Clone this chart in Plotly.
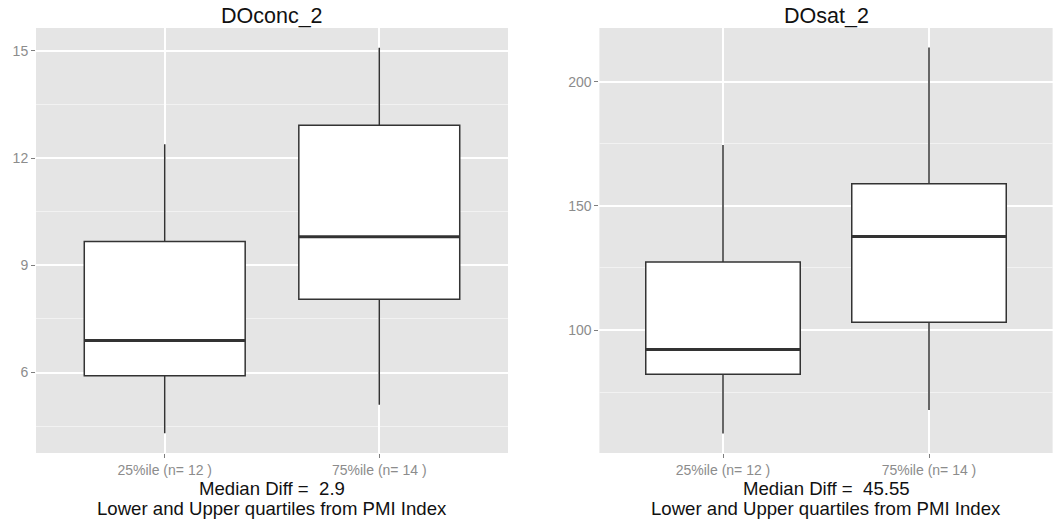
import plotly.graph_objects as go

# ---- data ----
groups = ["25%ile", "75%ile"]
counts = [12, 14]

conc_lower = [4.30, 5.10]
conc_q1 = [5.91, 8.05]
conc_median = [6.90, 9.80]
conc_q3 = [9.67, 12.92]
conc_upper = [12.39, 15.09]
conc_median_diff = "2.9"

sat_lower = [58.4, 67.8]
sat_q1 = [82.2, 103.1]
sat_median = [92.15, 137.7]
sat_q3 = [127.4, 158.9]
sat_upper = [174.5, 213.7]
sat_median_diff = "45.55"

conc_ticks = [6, 9, 12, 15]
conc_minor = [4.5, 7.5, 10.5, 13.5]
sat_ticks = [100, 150, 200]
sat_minor = [75, 125, 175]

panel_titles = ["DOconc_2", "DOsat_2"]
caption = "Lower and Upper quartiles from PMI Index"

# ---- styling ----
W, H = 1055, 529
FONT = "Liberation Sans, Arial, sans-serif"
BOX_W = 0.75
pos = [1, 2]
labels = [f"{g} (n= {n} )" for g, n in zip(groups, counts)]


def px_x(v):
    return v / W


def px_y(v):
    return 1 - v / H


fig = go.Figure()


def add_panel(idx, lo, q1, med, q3, hi):
    xa = "x" if idx == 1 else f"x{idx}"
    ya = "y" if idx == 1 else f"y{idx}"
    fig.add_trace(go.Box(
        x=pos, q1=q1, median=med, q3=q3, lowerfence=lo, upperfence=hi,
        width=BOX_W, whiskerwidth=0, boxpoints=False,
        fillcolor="white", line=dict(color="#333333", width=1.5),
        xaxis=xa, yaxis=ya, showlegend=False, hoverinfo="skip"))
    for p, m in zip(pos, med):
        fig.add_trace(go.Scatter(
            x=[p - BOX_W / 2, p + BOX_W / 2], y=[m, m], mode="lines",
            line=dict(color="#333333", width=3),
            xaxis=xa, yaxis=ya, showlegend=False, hoverinfo="skip"))


add_panel(1, conc_lower, conc_q1, conc_median, conc_q3, conc_upper)
add_panel(2, sat_lower, sat_q1, sat_median, sat_q3, sat_upper)

y_bot = px_y(453)
y_top = px_y(28)

common_x = dict(range=[0.4, 2.6], tickvals=pos, ticktext=labels,
                showgrid=True, gridcolor="white", gridwidth=1.5,
                zeroline=False, ticks="outside", ticklen=4,
                tickcolor="#7F7F7F", tickwidth=1,
                tickfont=dict(family=FONT, size=14, color="#8C8C8C"),
                showline=False, automargin=False)
common_y = dict(showgrid=True, gridcolor="white", gridwidth=1.5,
                zeroline=False, ticks="outside", ticklen=4,
                tickcolor="#7F7F7F", tickwidth=1,
                tickfont=dict(family=FONT, size=14, color="#8C8C8C"),
                showline=False, automargin=False)

fig.update_layout(
    width=W, height=H,
    margin=dict(l=0, r=0, t=0, b=0),
    paper_bgcolor="white", plot_bgcolor="#E5E5E5",
    font=dict(family=FONT),
    xaxis=dict(domain=[px_x(36), px_x(508)], anchor="y", **common_x),
    yaxis=dict(domain=[y_bot, y_top], anchor="x", range=[3.75, 15.64],
               tickvals=conc_ticks,
               minor=dict(tickvals=conc_minor, showgrid=True,
                          gridcolor="#F2F2F2", gridwidth=1, ticklen=0),
               **common_y),
    xaxis2=dict(domain=[px_x(599.4), px_x(1052.6)], anchor="y2", **common_x),
    yaxis2=dict(domain=[y_bot, y_top], anchor="x2", range=[50.5, 221.6],
                tickvals=sat_ticks,
                minor=dict(tickvals=sat_minor, showgrid=True,
                           gridcolor="#F2F2F2", gridwidth=1, ticklen=0),
                **common_y),
)

for i, (title, diff) in enumerate(zip(panel_titles, [conc_median_diff, sat_median_diff]), start=1):
    xd = "x domain" if i == 1 else f"x{i} domain"
    fig.add_annotation(text=title, xref=xd, x=0.5, yref="paper", y=px_y(16),
                       xanchor="center", yanchor="middle", showarrow=False,
                       font=dict(family=FONT, size=21.5, color="#111111"))
    fig.add_annotation(text=f"Median Diff =  {diff}", xref=xd, x=0.5, yref="paper",
                       y=px_y(488), xanchor="center", yanchor="middle", showarrow=False,
                       font=dict(family=FONT, size=18.6, color="#111111"))
    fig.add_annotation(text=caption, xref=xd, x=0.5, yref="paper",
                       y=px_y(508), xanchor="center", yanchor="middle", showarrow=False,
                       font=dict(family=FONT, size=18.6, color="#111111"))

fig.write_html(
    "out.html",
    config={"displayModeBar": False},
    post_script="document.body.style.margin='0';document.body.style.overflow='hidden';",
)
